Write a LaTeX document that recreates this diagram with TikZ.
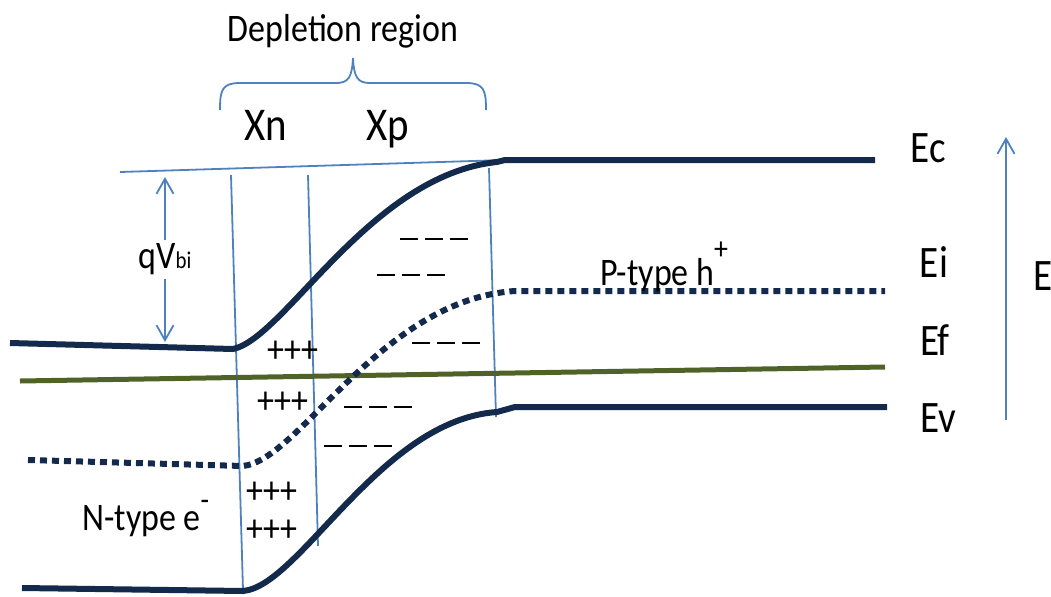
\documentclass[tikz,border=0pt]{standalone}
\usepackage{fontspec}
\setmainfont{Carlito}[FakeStretch=0.87]
\usepackage{xcolor}
\usepackage{tikz}
\usetikzlibrary{arrows.meta}

\definecolor{bandc}{HTML}{142A4C}
\definecolor{linec}{HTML}{4F81BD}
\definecolor{fermic}{HTML}{4F6228}
\newcommand{\sups}[2]{\raisebox{#1}{\fontsize{16}{16}\selectfont #2}}
\newcommand{\negbar}{\rule{9pt}{1.2pt}}
\newcommand{\negrow}{\negbar\hspace{3.5pt}\negbar\hspace{3.5pt}\negbar}

\begin{document}
\begin{tikzpicture}[x=0.5pt, y=-0.5pt, >={Straight Barb[length=7.5pt,width=8.5pt]},
  every node/.style={inner sep=0pt, font=\fontsize{19.5}{22}\selectfont},
  band/.style={draw=bandc, line width=3pt, line join=round},
  ilevel/.style={draw=bandc, line width=3pt, dash pattern=on 3.5pt off 2.5pt},
  guide/.style={draw=linec, line width=0.9pt},
  lvl/.style={anchor=base, font=\fontsize{22.5}{24}\selectfont}]
  \useasboundingbox (0,0) rectangle (1051,596);

  % depletion edges and brace
  \draw[guide] (120,172) -- (505,160);
  \draw[guide] (231,175) -- (243,590);
  \draw[guide] (308,175) -- (318,546);
  \draw[guide] (489,168) -- (496,417);
  \draw[guide] (220,110) .. controls (220,90) and (222,83) .. (240,83) -- (336,83)
    .. controls (348,83) and (352,78) .. (353,58)
    .. controls (354,78) and (358,83) .. (370,83) -- (466,83)
    .. controls (484,83) and (486,90) .. (486,110);

  % bands
  \draw[draw=fermic, line width=2.5pt] (20,381) -- (885,367);
  \draw[band] (10,343) -- (233,349) .. controls (285,338) and (370,175) .. (497,162) -- (505,160) -- (875,160);
  \draw[ilevel] (28,460) -- (243,466) .. controls (300,460) and (380,300) .. (515,291) -- (885,291);
  \draw[band] (22,588) -- (243,591) .. controls (300,586) and (380,420) .. (497,412) -- (515,407) -- (887,407);

  \node[anchor=base] (dep) at (343,41) {Depletion region};
  \node[anchor=base, font=\fontsize{23.5}{26}\selectfont] (xn) at (266,140) {Xn};
  \node[anchor=base, font=\fontsize{23.5}{26}\selectfont] (xp) at (388,140) {Xp};

  \node[lvl] (ec) at (928,162) {Ec};
  \node[lvl] (ei) at (934,277) {Ei};
  \node[lvl] (ef) at (935,355) {Ef};
  \node[lvl] (ev) at (938,432) {Ev};
  \node[lvl, anchor=base west] (en) at (1033,290) {E};

  \node[anchor=base west] (ptype) at (600,285) {P-type h\sups{13pt}{+}};
  \node[anchor=base west] (ntype) at (82,530) {N-type e\sups{10pt}{-}};

  \node (pa) at (293,352) {+++};
  \node (pb) at (283,403) {+++};
  \node (pc) at (272,493) {+++};
  \node (pd) at (272,531) {+++};

  \node (na) at (434,239) {\negrow};
  \node (nb) at (411,275) {\negrow};
  \node (nc) at (446,343) {\negrow};
  \node (nd) at (378,407) {\negrow};
  \node (ne) at (358,446) {\negrow};

  \coordinate (qtop) at (165,177);
  \coordinate (qbot) at (165,342);
  \draw[guide, <->] (qtop) -- node[fill=white, inner sep=2pt] (qv) {qV{\fontsize{12}{12}\selectfont bi}} (qbot);

  \coordinate (ebot) at (1006,420);
  \coordinate (etop) at (1006,137);
  \draw[guide, ->] (ebot) -- (etop);
\end{tikzpicture}
\end{document}
